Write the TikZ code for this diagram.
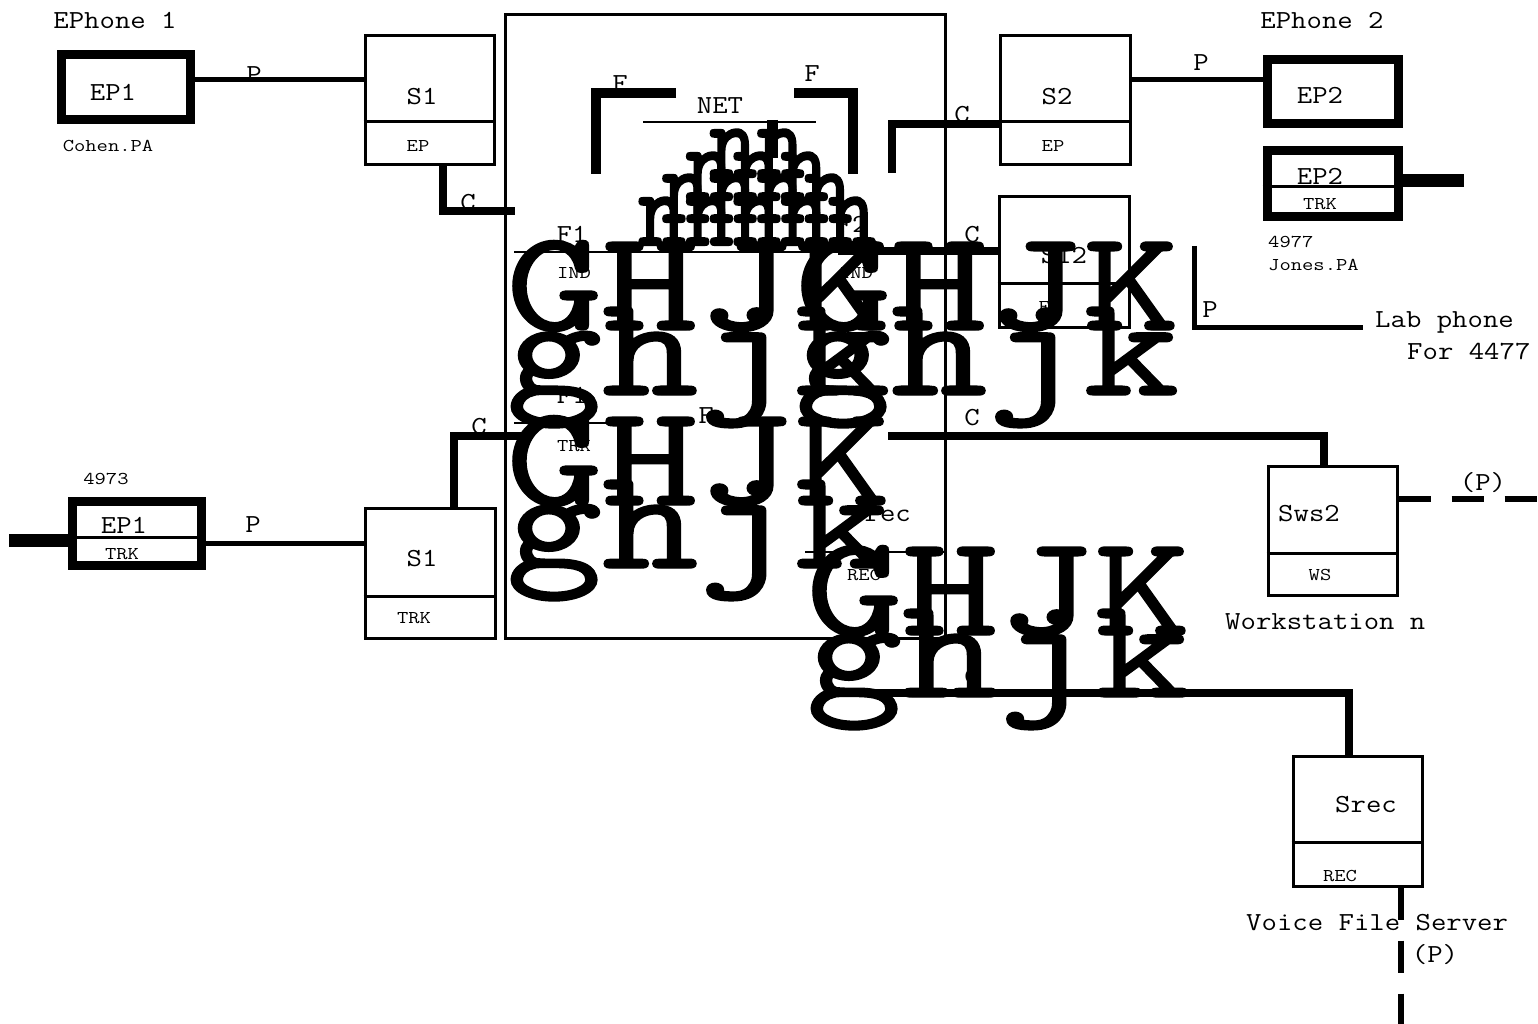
\documentclass[tikz,border=0pt]{standalone}
\usepackage{fontspec}
\usepackage{graphicx}
\newfontfamily\gfont{lmmono10-regular.otf}[FakeBold=1]
\newfontfamily\nfont{lmmono10-regular.otf}[FakeBold=2]
\newcommand\xL[1]{\scalebox{1.15}[1]{#1}}
\newcommand\xS[1]{\scalebox{1.22}[1]{#1}}
\newcommand\xG[1]{\scalebox{1.27}[1]{#1}}
\newcommand\xN[1]{\scalebox{0.83}[1]{#1}}
\begin{document}
\begin{tikzpicture}[x=1pt,y=-1pt,
  lbl/.style={inner sep=0pt,font=\ttfamily\fontsize{26}{26}\selectfont},
  sml/.style={inner sep=0pt,font=\ttfamily\fontsize{18}{18}\selectfont},
  bigt/.style={inner sep=0pt,anchor=base west,font=\gfont\fontsize{144}{144}\selectfont},
  nnt/.style={inner sep=0pt,anchor=base,font=\nfont\fontsize{109}{109}\selectfont},
  sbox/.style={draw,line width=3pt,inner sep=0pt},
  epbox/.style={draw,line width=9pt,inner sep=0pt},
  divline/.style={line width=3pt},
  thinl/.style={line width=2.5pt},
  pline/.style={line width=5pt},
  cline/.style={line width=8pt},
  fline/.style={line width=10pt},
  stub/.style={line width=13pt},
  dline/.style={line width=6pt,dash pattern=on 32pt off 21pt},
]
\fill[white] (0,0) rectangle (1538,1024);
\useasboundingbox (0,0) rectangle (1538,1024);

% ---------- boxes ----------
\node[sbox,minimum width=440pt,minimum height=623pt] (net) at (725,326.5) {};
\node[sbox,minimum width=129pt,minimum height=129pt] (s1top) at (429.5,100.5) {};
\node[sbox,minimum width=130pt,minimum height=129pt] (s2top) at (1065,100.5) {};
\node[sbox,minimum width=130pt,minimum height=130pt] (s12) at (1064,262) {};
\node[sbox,minimum width=130pt,minimum height=130pt] (s1low) at (430,573) {};
\node[sbox,minimum width=129pt,minimum height=129pt] (sws2) at (1332.5,530.5) {};
\node[sbox,minimum width=129pt,minimum height=130pt] (srec) at (1357.5,821) {};
\node[epbox,minimum width=129pt,minimum height=65pt] (ep1top) at (126,87) {};
\node[epbox,minimum width=129pt,minimum height=64pt] (ep1low) at (136.5,533) {};
\node[epbox,minimum width=131pt,minimum height=64pt] (ep2top) at (1332.5,92) {};
\node[epbox,minimum width=131pt,minimum height=66pt] (ep2trk) at (1332.5,184) {};

% dividers
\draw[divline] (s1top.west |- 0,122) -- (s1top.east |- 0,122);
\draw[divline] (s2top.west |- 0,122) -- (s2top.east |- 0,122);
\draw[divline] (s12.west |- 0,283) -- (s12.east |- 0,283);
\draw[divline] (s1low.west |- 0,596) -- (s1low.east |- 0,596);
\draw[divline] (sws2.west |- 0,553) -- (sws2.east |- 0,553);
\draw[divline] (srec.west |- 0,842) -- (srec.east |- 0,842);
\draw[divline] (ep1low.west |- 0,537) -- (ep1low.east |- 0,537);
\draw[divline] (ep2trk.west |- 0,187) -- (ep2trk.east |- 0,187);

% NET internals
\draw[fline] (676,93) -- (596,93) -- (596,174);
\draw[fline] (794,93) -- (853,93) -- (853,174);
\draw[thinl] (643,122) -- (816,122);
\draw[thinl] (514,252) -- (945,252);
\draw[thinl] (514,423) -- (623,423);
\draw[thinl] (805,552) -- (945,552);

% ---------- labels ----------
\node[lbl] (t-eph1) at (115,20) {\xL{EPhone 1}};
\node[lbl] (t-ep1) at (113,92) {\xL{EP1}};
\node[sml] (t-cohen) at (108,146) {\xS{Cohen.PA}};
\node[lbl] (t-p1) at (254,75) {\xL{P}};
\node[lbl] (t-s1) at (422,97) {\xL{S1}};
\node[sml] (t-eps1) at (418,146) {\xS{EP}};
\node[lbl] (t-c1) at (468,203) {\xL{C}};
\node[lbl] (t-eph2) at (1322,20) {\xL{EPhone 2}};
\node[lbl] (t-p2) at (1201,63) {\xL{P}};
\node[lbl] (t-s2) at (1057,97) {\xL{S2}};
\node[sml] (t-eps2) at (1053,146) {\xS{EP}};
\node[lbl] (t-c2) at (962,115) {\xL{C}};
\node[lbl] (t-ep2a) at (1320,95) {\xL{EP2}};
\node[lbl] (t-ep2b) at (1320,176) {\xL{EP2}};
\node[sml] (t-trk2) at (1320,204) {\xS{TRK}};
\node[sml,anchor=west] (t-4977) at (1268,242) {\xS{4977}};
\node[sml,anchor=west] (t-jones) at (1268,265) {\xS{Jones.PA}};
\node[lbl] (t-s12) at (1064,256) {\xL{S12}};
\node[sml] (t-eps12) at (1050,307) {\xS{EP}};
\node[lbl] (t-p3) at (1210,310) {\xL{P}};
\node[lbl,anchor=west] (t-lab) at (1375,322) {\xL{Lab phone}};
\node[lbl,anchor=west] (t-for) at (1407,352) {\xL{For 4477}};
\node[lbl] (t-c3) at (972,235) {\xL{C}};
\node[lbl] (t-c4) at (972,418) {\xL{C}};
\node[lbl] (t-pws) at (1483,483) {\xL{(P)}};
\node[lbl,anchor=west] (t-sws2) at (1278,514) {\xL{Sws2}};
\node[sml] (t-ws) at (1320,575) {\xS{WS}};
\node[lbl,anchor=west] (t-work) at (1225,622) {\xL{Workstation n}};
\node[lbl] (t-c6) at (972,677) {\xL{C}};
\node[lbl] (t-srec) at (1366,805) {\xL{Srec}};
\node[sml] (t-rec2) at (1340,876) {\xS{REC}};
\node[lbl,anchor=west] (t-voice) at (1246,923) {\xL{Voice File Server}};
\node[lbl] (t-prec) at (1435,955) {\xL{(P)}};
\node[sml] (t-4973) at (106,479) {\xS{4973}};
\node[lbl] (t-ep1l) at (124,525) {\xL{EP1}};
\node[sml] (t-trk1) at (122,554) {\xS{TRK}};
\node[lbl] (t-p4) at (253,525) {\xL{P}};
\node[lbl] (t-s1l) at (422,559) {\xL{S1}};
\node[sml] (t-trks1) at (414,618) {\xS{TRK}};
\node[lbl] (t-c5) at (479,427) {\xL{C}};
% inside NET
\node[lbl] (t-fa) at (620,84) {\xL{F}};
\node[lbl] (t-fb) at (812,74) {\xL{F}};
\node[lbl] (t-net) at (720,106) {\xL{NET}};
\node[lbl] (t-f1a) at (572,234) {\xL{F1}};
\node[sml] (t-ind1) at (574,273) {\xS{IND}};
\node[lbl] (t-f2) at (852,224) {\xL{F2}};
\node[sml] (t-ind2) at (856,273) {\xS{IND}};
\node[lbl] (t-f1b) at (572,395) {\xL{F1}};
\node[sml] (t-trkn) at (574,446) {\xS{TRK}};
\node[lbl] (t-fws) at (706,416) {\xL{F}};
\node[lbl] (t-frec) at (880,514) {\xL{Frec}};
\node[sml] (t-recn) at (864,575) {\xS{REC}};

% ---------- connectors ----------
\draw[pline] (ep1top.east |- 0,80) -- (s1top.west |- 0,80);
\coordinate (c1e) at (515,211);
\draw[cline] (s1top.south -| 443,0) |- (c1e);
\coordinate (c2e) at (892,173);
\draw[cline] (s2top.west |- 0,124) -| (c2e);
\draw[pline] (s2top.east |- 0,80) -- (ep2top.west |- 0,80);
\coordinate (stub2) at (1464,181);
\draw[stub] (ep2trk.east |- stub2) -- (stub2);
\coordinate (c3e) at (838,251);
\draw[cline] (s12.west |- c3e) -- (c3e);
\coordinate (pk) at (1194,246);
\coordinate (labend) at (1363,327);
\draw[pline] (pk) |- (labend);
\coordinate (c4e) at (888,436);
\draw[cline] (sws2.north -| 1324,0) |- (c4e);
\coordinate (dwe) at (1538,499);
\draw[dline] (sws2.east |- dwe) -- (dwe);
\coordinate (c5e) at (525,436);
\draw[cline] (s1low.north -| 454,0) |- (c5e);
\draw[pline] (ep1low.east |- 0,543) -- (s1low.west |- 0,543);
\coordinate (stub1) at (9,540);
\draw[stub] (ep1low.west |- stub1) -- (stub1);
\coordinate (c6e) at (866,693);
\draw[cline] (srec.north -| 1349,0) |- (c6e);
\coordinate (dre) at (1401,1024);
\draw[dline] (srec.south -| dre) -- (dre);

% ---------- overprinted glyphs ----------
\node[nnt] (n1) at (757,177) {\xN{nn}};
\node[nnt] (n2) at (757,200) {\xN{nnn}};
\node[nnt] (n3) at (757,222) {\xN{nnnn}};
\node[nnt] (n4) at (757,245) {\xN{nnnnn}};
\draw[line width=11pt] (772,120) -- (772,158);
\node[bigt] (ga1) at (506,330) {\xG{GHJK}};
\node[bigt] (ga2) at (506,395) {\xG{ghjk}};
\node[bigt] (gb1) at (795,330) {\xG{GHJK}};
\node[bigt] (gb2) at (795,395) {\xG{ghjk}};
\node[bigt] (gc1) at (506,505) {\xG{GHJK}};
\node[bigt] (gc2) at (506,568) {\xG{ghjk}};
\node[bigt] (gd1) at (806,635) {\xG{GHJK}};
\node[bigt] (gd2) at (806,697) {\xG{ghjk}};
\end{tikzpicture}
\end{document}
